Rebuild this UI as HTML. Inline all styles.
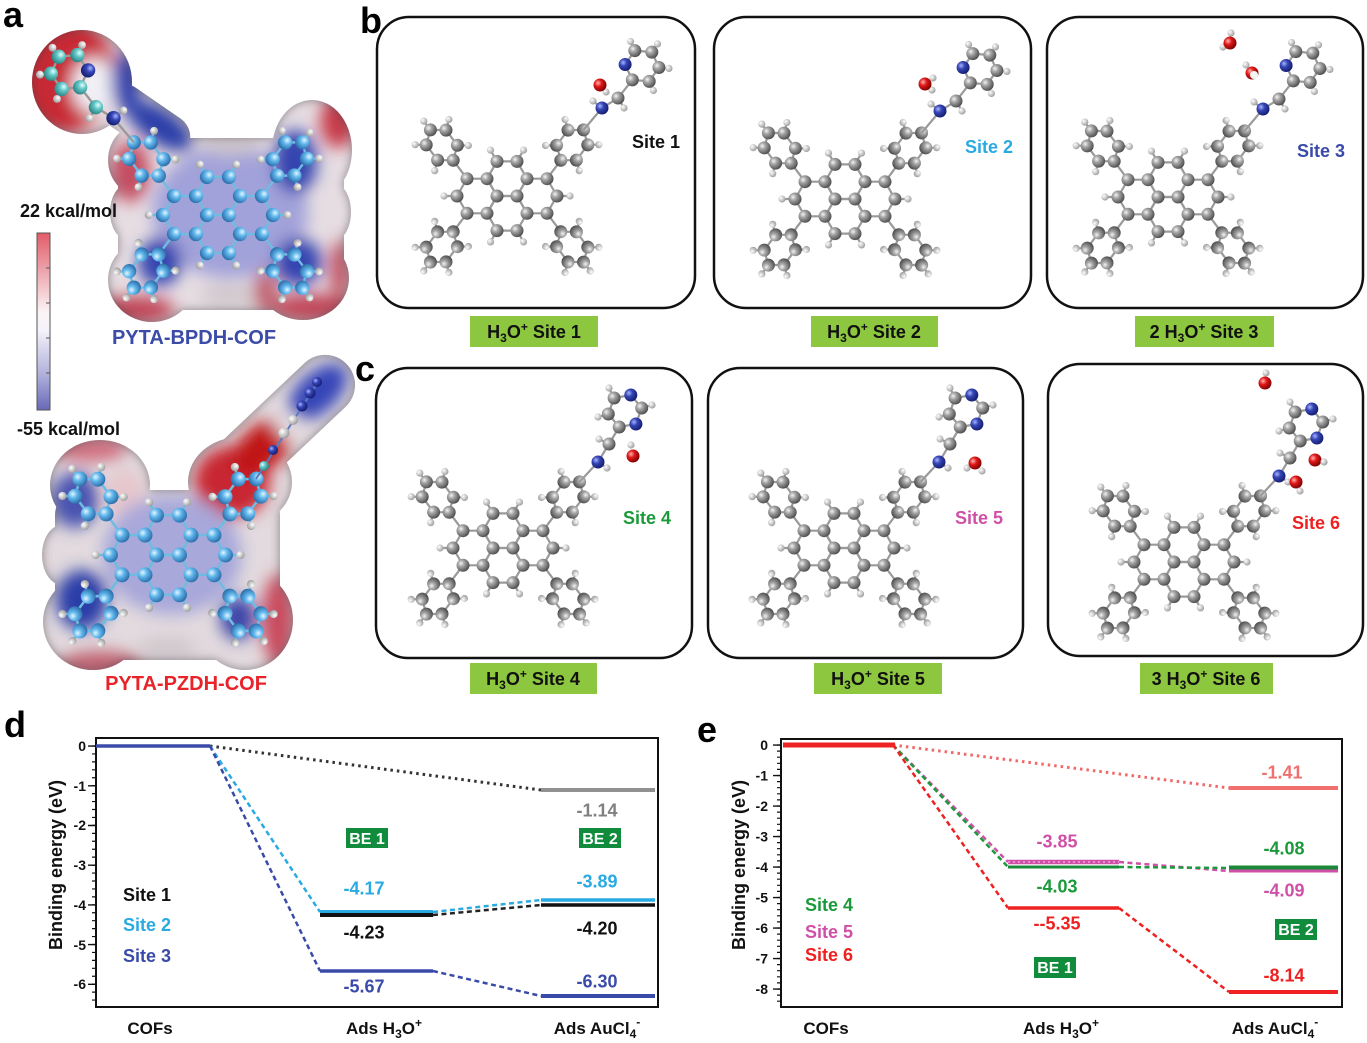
<!DOCTYPE html>
<html>
<head>
<meta charset="utf-8">
<style>
html,body{margin:0;padding:0;background:#fff;}
svg{display:block;}
text{font-family:"Liberation Sans",Arial,sans-serif;font-weight:bold;}
</style>
</head>
<body>
<svg width="1367" height="1043" viewBox="0 0 1367 1043" xmlns="http://www.w3.org/2000/svg">
<defs>
  <radialGradient id="gC" cx="0.35" cy="0.35" r="0.7">
    <stop offset="0" stop-color="#f4f4f4"/><stop offset="0.35" stop-color="#a6a6a6"/><stop offset="1" stop-color="#4a4a4a"/>
  </radialGradient>
  <radialGradient id="gH" cx="0.35" cy="0.35" r="0.7">
    <stop offset="0" stop-color="#ffffff"/><stop offset="1" stop-color="#9a9a9a"/>
  </radialGradient>
  <radialGradient id="gN" cx="0.35" cy="0.35" r="0.7">
    <stop offset="0" stop-color="#a8b4ff"/><stop offset="0.4" stop-color="#3444b4"/><stop offset="1" stop-color="#141c6c"/>
  </radialGradient>
  <radialGradient id="gO" cx="0.35" cy="0.35" r="0.7">
    <stop offset="0" stop-color="#ffb4b4"/><stop offset="0.4" stop-color="#e01818"/><stop offset="1" stop-color="#7a0000"/>
  </radialGradient>
  <radialGradient id="gA" cx="0.35" cy="0.35" r="0.7">
    <stop offset="0" stop-color="#e4f6ff"/><stop offset="0.4" stop-color="#62b8ec"/><stop offset="1" stop-color="#2a6aa8"/>
  </radialGradient>
  <radialGradient id="gT" cx="0.35" cy="0.35" r="0.7">
    <stop offset="0" stop-color="#e4ffff"/><stop offset="0.4" stop-color="#62c8c6"/><stop offset="1" stop-color="#2a8080"/>
  </radialGradient>
  <linearGradient id="cb" x1="0" y1="0" x2="0" y2="1">
    <stop offset="0" stop-color="#e25c68"/><stop offset="0.2" stop-color="#eca0a8"/><stop offset="0.45" stop-color="#fbf4f6"/>
    <stop offset="0.55" stop-color="#f4f2fa"/><stop offset="0.8" stop-color="#b0b0dc"/><stop offset="1" stop-color="#6868b8"/>
  </linearGradient>
  <filter id="bl" x="-50%" y="-50%" width="200%" height="200%"><feGaussianBlur stdDeviation="8"/></filter>
  <filter id="inner" x="-10%" y="-10%" width="120%" height="120%">
    <feGaussianBlur in="SourceAlpha" stdDeviation="5" result="b"/>
    <feComposite in="SourceAlpha" in2="b" operator="out" result="edge"/>
    <feFlood flood-color="#3c3840"/>
    <feComposite in2="edge" operator="in"/>
  </filter>

  <!-- pyrene core -->
  <g id="pyrB" fill="none" stroke="currentColor" stroke-width="2.2">
    <polygon points="-20,-17.3 -10,-34.6 10,-34.6 20,-17.3 10,0 -10,0"/>
    <polygon points="-20,17.3 -10,34.6 10,34.6 20,17.3 10,0 -10,0"/>
    <polygon points="-50,0 -40,-17.3 -20,-17.3 -10,0 -20,17.3 -40,17.3"/>
    <polygon points="50,0 40,-17.3 20,-17.3 10,0 20,17.3 40,17.3"/>
    <path d="M-50,0L-63,0M50,0L63,0M-10,-34.6L-16.5,-45.9M10,-34.6L16.5,-45.9M-10,34.6L-16.5,45.9M10,34.6L16.5,45.9"/>
  </g>
  <g id="pyrA">
    <circle cx="-10" cy="0" r="6.5"/><circle cx="10" cy="0" r="6.5"/>
    <circle cx="-20" cy="-17.3" r="6.5"/><circle cx="20" cy="-17.3" r="6.5"/>
    <circle cx="-20" cy="17.3" r="6.5"/><circle cx="20" cy="17.3" r="6.5"/>
    <circle cx="-10" cy="-34.6" r="6.5"/><circle cx="10" cy="-34.6" r="6.5"/>
    <circle cx="-10" cy="34.6" r="6.5"/><circle cx="10" cy="34.6" r="6.5"/>
    <circle cx="-40" cy="-17.3" r="6.5"/><circle cx="40" cy="-17.3" r="6.5"/>
    <circle cx="-40" cy="17.3" r="6.5"/><circle cx="40" cy="17.3" r="6.5"/>
    <circle cx="-50" cy="0" r="6.5"/><circle cx="50" cy="0" r="6.5"/>
  </g>
  <g id="pyrH">
    <circle cx="-63" cy="0" r="3.6"/><circle cx="63" cy="0" r="3.6"/>
    <circle cx="-16.5" cy="-45.9" r="3.6"/><circle cx="16.5" cy="-45.9" r="3.6"/>
    <circle cx="-16.5" cy="45.9" r="3.6"/><circle cx="16.5" cy="45.9" r="3.6"/>
  </g>
  <!-- phenyl arm (upper-left) -->
  <g id="armB" fill="none" stroke="currentColor" stroke-width="2.2">
    <polygon points="-53.8,-35.7 -69.4,-35.9 -80.8,-51.1 -76.6,-66.1 -61,-65.9 -49.6,-50.7"/>
    <line x1="-40" y1="-17.3" x2="-53.8" y2="-35.7"/>
    <path d="M-69.4,-35.9L-72.3,-25.3M-80.8,-51.1L-91.8,-51.3M-61,-65.9L-58.1,-76.5M-49.6,-50.7L-38.6,-50.5"/>
  </g>
  <path id="paraB" d="M-76.6,-66.1L-83.2,-74.9"/>
  <g id="armA">
    <circle cx="-53.8" cy="-35.7" r="6.5"/><circle cx="-69.4" cy="-35.9" r="6.5"/><circle cx="-80.8" cy="-51.1" r="6.5"/>
    <circle cx="-76.6" cy="-66.1" r="6.5"/><circle cx="-61" cy="-65.9" r="6.5"/><circle cx="-49.6" cy="-50.7" r="6.5"/>
  </g>
  <g id="armH">
    <circle cx="-72.3" cy="-25.3" r="3.6"/><circle cx="-91.8" cy="-51.3" r="3.6"/>
    <circle cx="-58.1" cy="-76.5" r="3.6"/><circle cx="-38.6" cy="-50.5" r="3.6"/>
  </g>
  <circle id="paraH" cx="-83.2" cy="-74.9" r="3.6"/>

  <g id="molB">
    <use href="#pyrB"/>
    <use href="#armB"/><use href="#armB" transform="scale(-1,1)"/><use href="#armB" transform="scale(1,-1)"/><use href="#armB" transform="scale(-1,-1)"/>
    <g fill="none" stroke="currentColor" stroke-width="2.2">
      <use href="#paraB"/><use href="#paraB" transform="scale(1,-1)"/><use href="#paraB" transform="scale(-1,-1)"/>
    </g>
  </g>
  <g id="molH">
    <use href="#pyrH"/>
    <use href="#armH"/><use href="#armH" transform="scale(-1,1)"/><use href="#armH" transform="scale(1,-1)"/><use href="#armH" transform="scale(-1,-1)"/>
    <use href="#paraH"/><use href="#paraH" transform="scale(1,-1)"/><use href="#paraH" transform="scale(-1,-1)"/>
  </g>
  <g id="molC">
    <use href="#pyrA"/>
    <use href="#armA"/><use href="#armA" transform="scale(-1,1)"/><use href="#armA" transform="scale(1,-1)"/><use href="#armA" transform="scale(-1,-1)"/>
  </g>

  <!-- pyridine tail -->
  <g id="tailP">
    <g fill="none" stroke="#9a9a9a" stroke-width="2.2">
      <polyline points="76.6,-66.1 95,-88 111,-98 125.3,-116.1"/>
      <polygon points="125.3,-116.1 118.1,-131.5 127.8,-145.4 144.8,-143.9 151.9,-128.5 142.2,-114.6"/>
      <path d="M127.8,-145.4L123.6,-154.5M144.8,-143.9L150.5,-152.1M151.9,-128.5L161.9,-127.6M142.2,-114.6L146.4,-105.5M111,-98L117,-88M95,-88L86,-95"/>
    </g>
    <g fill="url(#gH)">
      <circle cx="123.6" cy="-154.5" r="3.6"/><circle cx="150.5" cy="-152.1" r="3.6"/><circle cx="161.9" cy="-127.6" r="3.6"/>
      <circle cx="146.4" cy="-105.5" r="3.6"/><circle cx="117" cy="-88" r="3.6"/><circle cx="86" cy="-95" r="3.6"/>
    </g>
    <g>
      <circle cx="111" cy="-98" r="6.5"/><circle cx="125.3" cy="-116.1" r="6.5"/><circle cx="127.8" cy="-145.4" r="6.5"/>
      <circle cx="144.8" cy="-143.9" r="6.5"/><circle cx="151.9" cy="-128.5" r="6.5"/><circle cx="142.2" cy="-114.6" r="6.5"/>
    </g>
    <g fill="url(#gN)"><circle cx="95" cy="-88" r="6.5"/><circle cx="118.1" cy="-131.5" r="6.5"/></g>
  </g>
  <!-- pyrazine tail -->
  <g id="tailZ">
    <g fill="none" stroke="#9a9a9a" stroke-width="2.2">
      <polyline points="76.6,-66.1 95,-86 106,-104 116.2,-121"/>
      <polygon points="116.2,-121 105.3,-134 111.1,-150 127.8,-153 138.7,-140 132.9,-124"/>
      <path d="M105.3,-134L95,-131M111.1,-150L106,-160M138.7,-140L149,-143M106,-104L96,-109M95,-86L104,-80"/>
    </g>
    <g fill="url(#gH)">
      <circle cx="95" cy="-131" r="3.6"/><circle cx="106" cy="-160" r="3.6"/><circle cx="149" cy="-143" r="3.6"/>
      <circle cx="96" cy="-109" r="3.6"/><circle cx="104" cy="-80" r="3.6"/>
    </g>
    <g fill="url(#gC)">
      <circle cx="106" cy="-104" r="6.5"/><circle cx="116.2" cy="-121" r="6.5"/><circle cx="105.3" cy="-134" r="6.5"/>
      <circle cx="111.1" cy="-150" r="6.5"/><circle cx="138.7" cy="-140" r="6.5"/>
    </g>
    <g fill="url(#gN)"><circle cx="95" cy="-86" r="6.5"/><circle cx="127.8" cy="-153" r="6.5"/><circle cx="132.9" cy="-124" r="6.5"/></g>
  </g>

  <clipPath id="cA1">
    <rect x="118" y="138" width="226" height="172" rx="25"/>
    <ellipse cx="150" cy="160" rx="42" ry="40"/>
    <ellipse cx="312" cy="150" rx="40" ry="50"/>
    <ellipse cx="152" cy="280" rx="44" ry="42"/>
    <ellipse cx="303" cy="278" rx="46" ry="42"/>
    <ellipse cx="128" cy="212" rx="18" ry="28"/>
    <ellipse cx="335" cy="212" rx="16" ry="28"/>
    <rect x="95" y="99" width="100" height="46" rx="23" transform="rotate(34.5 145 122)"/>
    <ellipse cx="82" cy="82" rx="50" ry="52"/>
  </clipPath>
  <clipPath id="cA2">
    <rect x="55" y="490" width="225" height="170" rx="25"/>
    <ellipse cx="100" cy="485" rx="50" ry="45"/>
    <ellipse cx="240" cy="482" rx="52" ry="45"/>
    <ellipse cx="93" cy="622" rx="50" ry="48"/>
    <ellipse cx="245" cy="620" rx="48" ry="50"/>
    <ellipse cx="62" cy="555" rx="20" ry="30"/>
    <ellipse cx="255" cy="555" rx="14" ry="30"/>
    <rect x="188" y="397.5" width="184" height="60" rx="30" transform="rotate(-43.4 280 427.5)"/>
  </clipPath>
</defs>

<!-- ===== Panel a ===== -->
<text x="3" y="27" font-size="36">a</text>

<g clip-path="url(#cA1)">
  <rect x="0" y="0" width="360" height="340" fill="#e6dde2"/>
  <g filter="url(#bl)">
    <ellipse cx="64" cy="75" rx="52" ry="58" fill="#c82a34"/>
    <ellipse cx="94" cy="86" rx="22" ry="28" fill="#f2f0f6"/>
    <ellipse cx="126" cy="82" rx="15" ry="30" fill="#3444b0"/>
    <ellipse cx="160" cy="126" rx="38" ry="17" transform="rotate(34 160 126)" fill="#2c3ca8"/>
    <ellipse cx="130" cy="172" rx="20" ry="30" fill="#c44e62"/>
    <ellipse cx="230" cy="212" rx="78" ry="66" fill="#a2a2da"/>
    <ellipse cx="230" cy="145" rx="30" ry="10" fill="#cfc6ca"/>
    <ellipse cx="230" cy="295" rx="30" ry="10" fill="#cfc6ca"/>
    <ellipse cx="295" cy="162" rx="22" ry="32" fill="#3444b0"/>
    <ellipse cx="338" cy="122" rx="18" ry="26" fill="#c83a4a"/>
    <ellipse cx="160" cy="262" rx="22" ry="24" fill="#3444b0"/>
    <ellipse cx="135" cy="310" rx="40" ry="14" fill="#bf4456"/>
    <ellipse cx="298" cy="262" rx="24" ry="24" fill="#3444b0"/>
    <ellipse cx="312" cy="308" rx="42" ry="14" fill="#bf4456"/>
    <ellipse cx="266" cy="292" rx="12" ry="22" fill="#c06070"/>
    <ellipse cx="340" cy="270" rx="10" ry="30" fill="#c0505e"/>
  </g>
</g>
<g filter="url(#inner)" opacity="0.55" fill="#000">
  <rect x="118" y="138" width="226" height="172" rx="25"/>
  <ellipse cx="150" cy="160" rx="42" ry="40"/>
  <ellipse cx="312" cy="150" rx="40" ry="50"/>
  <ellipse cx="152" cy="280" rx="44" ry="42"/>
  <ellipse cx="303" cy="278" rx="46" ry="42"/>
  <ellipse cx="128" cy="212" rx="18" ry="28"/>
  <ellipse cx="335" cy="212" rx="16" ry="28"/>
  <rect x="95" y="99" width="100" height="46" rx="23" transform="rotate(34.5 145 122)"/>
  <ellipse cx="82" cy="82" rx="50" ry="52"/>
</g>
<g transform="translate(218,215) scale(-1.1,1.1)">
  <use href="#molB" color="#70bce0"/>
  <use href="#molH" fill="url(#gH)"/>
  <use href="#molC" fill="url(#gA)"/>
  <use href="#tailP" fill="url(#gT)"/>
</g>
<text x="194" y="344" font-size="20" fill="#3b4ca8" text-anchor="middle">PYTA-BPDH-COF</text>

<text x="20" y="217" font-size="18" fill="#111">22 kcal/mol</text>
<rect x="37" y="233" width="13" height="177" fill="url(#cb)" stroke="#555" stroke-width="1"/>
<path d="M46,268H50M46,303H50M46,338H50M46,373H50" stroke="#555" stroke-width="1"/>
<text x="17" y="435" font-size="18" fill="#111">-55 kcal/mol</text>

<g clip-path="url(#cA2)">
  <rect x="0" y="340" width="370" height="350" fill="#e2dade"/>
  <g filter="url(#bl)">
    <ellipse cx="90" cy="448" rx="38" ry="14" fill="#d07080"/>
    <ellipse cx="75" cy="500" rx="24" ry="28" fill="#4a52b0"/>
    <ellipse cx="125" cy="495" rx="20" ry="26" fill="#e6c6cc"/>
    <ellipse cx="232" cy="482" rx="38" ry="36" fill="#c82830"/>
    <ellipse cx="262" cy="448" rx="34" ry="22" transform="rotate(-43 262 448)" fill="#c01818"/>
    <ellipse cx="318" cy="392" rx="36" ry="20" transform="rotate(-43 318 392)" fill="#3444b8"/>
    <ellipse cx="288" cy="425" rx="12" ry="12" fill="#e8e2e6"/>
    <ellipse cx="172" cy="555" rx="70" ry="60" fill="#a8a8da"/>
    <ellipse cx="82" cy="600" rx="26" ry="30" fill="#2c3ca8"/>
    <ellipse cx="100" cy="665" rx="42" ry="14" fill="#c06070"/>
    <ellipse cx="238" cy="618" rx="18" ry="22" fill="#3c44a8"/>
    <ellipse cx="278" cy="620" rx="16" ry="46" fill="#c84a5c"/>
    <ellipse cx="168" cy="648" rx="30" ry="10" fill="#cfc6ca"/>
  </g>
</g>
<g filter="url(#inner)" opacity="0.55" fill="#000">
  <rect x="55" y="490" width="225" height="170" rx="25"/>
  <ellipse cx="100" cy="485" rx="50" ry="45"/>
  <ellipse cx="240" cy="482" rx="52" ry="45"/>
  <ellipse cx="93" cy="622" rx="50" ry="48"/>
  <ellipse cx="245" cy="620" rx="48" ry="50"/>
  <ellipse cx="62" cy="555" rx="20" ry="30"/>
  <ellipse cx="255" cy="555" rx="14" ry="30"/>
  <rect x="188" y="397.5" width="184" height="60" rx="30" transform="rotate(-43.4 280 427.5)"/>
</g>
<g transform="translate(168,555) scale(1.15)">
  <use href="#molB" color="#70bce0"/>
  <use href="#molH" fill="url(#gH)"/>
  <use href="#molC" fill="url(#gA)"/>
</g>
<g>
  <line x1="256" y1="479" x2="318" y2="382" stroke="#5a7ac0" stroke-width="2"/>
  <circle cx="264" cy="466" r="5" fill="url(#gT)"/>
  <circle cx="273" cy="450" r="5" fill="url(#gN)"/>
  <circle cx="284" cy="433" r="5.5" fill="url(#gH)"/>
  <circle cx="293" cy="420" r="5" fill="url(#gH)"/>
  <circle cx="302" cy="406" r="5.5" fill="url(#gN)"/>
  <circle cx="310" cy="393" r="5.5" fill="url(#gN)"/>
  <circle cx="317" cy="382" r="5" fill="url(#gN)"/>
</g>
<text x="186" y="690" font-size="20" fill="#e8232a" text-anchor="middle">PYTA-PZDH-COF</text>

<!-- ===== Panel b ===== -->
<text x="360" y="33" font-size="36">b</text>
<g fill="none" stroke="#111" stroke-width="2.5">
  <rect x="377" y="17" width="318" height="291" rx="32"/>
  <rect x="714" y="17" width="317" height="291" rx="32"/>
  <rect x="1047" y="17" width="316" height="291" rx="32"/>
</g>

<g transform="translate(507,196)">
  <use href="#molB" color="#9a9a9a"/><use href="#molH" fill="url(#gH)"/><use href="#molC" fill="url(#gC)"/>
  <use href="#tailP" fill="url(#gC)"/>
  <circle cx="99" cy="-104" r="3.6" fill="url(#gH)"/>
  <circle cx="93" cy="-111" r="6.5" fill="url(#gO)"/>
</g>
<text x="632" y="148" font-size="18" fill="#111">Site 1</text>

<g transform="translate(845,199)">
  <use href="#molB" color="#9a9a9a"/><use href="#molH" fill="url(#gH)"/><use href="#molC" fill="url(#gC)"/>
  <use href="#tailP" fill="url(#gC)"/>
  <circle cx="87" cy="-109" r="3.6" fill="url(#gH)"/>
  <circle cx="80" cy="-115" r="6.5" fill="url(#gO)"/>
  <circle cx="88" cy="-121" r="3.6" fill="url(#gH)"/>
</g>
<text x="965" y="153" font-size="18" fill="#29aae1">Site 2</text>

<g transform="translate(1168,197)">
  <use href="#molB" color="#9a9a9a"/><use href="#molH" fill="url(#gH)"/><use href="#molC" fill="url(#gC)"/>
  <use href="#tailP" fill="url(#gC)"/>
  <circle cx="55" cy="-150" r="3.6" fill="url(#gH)"/>
  <circle cx="62" cy="-154" r="6.5" fill="url(#gO)"/>
  <circle cx="63" cy="-164" r="3.6" fill="url(#gH)"/>
  <circle cx="78" cy="-132" r="3.6" fill="url(#gH)"/>
  <circle cx="84" cy="-124" r="6.5" fill="url(#gO)"/>
  <circle cx="86" cy="-122" r="4" fill="#f4f4f4"/>
</g>
<text x="1297" y="157" font-size="18" fill="#3a4aa8">Site 3</text>

<g font-size="18" fill="#111" text-anchor="middle">
  <rect x="470" y="316" width="128" height="31" fill="#8dc63f"/>
  <text x="534" y="338">H<tspan font-size="12" dy="4">3</tspan><tspan dy="-4">O</tspan><tspan font-size="12" dy="-7">+</tspan><tspan dy="7"> Site 1</tspan></text>
  <rect x="811" y="316" width="127" height="31" fill="#8dc63f"/>
  <text x="874" y="338">H<tspan font-size="12" dy="4">3</tspan><tspan dy="-4">O</tspan><tspan font-size="12" dy="-7">+</tspan><tspan dy="7"> Site 2</tspan></text>
  <rect x="1135" y="316" width="139" height="31" fill="#8dc63f"/>
  <text x="1204" y="338">2 H<tspan font-size="12" dy="4">3</tspan><tspan dy="-4">O</tspan><tspan font-size="12" dy="-7">+</tspan><tspan dy="7"> Site 3</tspan></text>
</g>

<!-- ===== Panel c ===== -->
<text x="355" y="381" font-size="36">c</text>
<g fill="none" stroke="#111" stroke-width="2.5">
  <rect x="376" y="368" width="316" height="290" rx="32"/>
  <rect x="708" y="368" width="315" height="290" rx="32"/>
  <rect x="1048" y="364" width="315" height="292" rx="32"/>
</g>

<g transform="translate(503,548)">
  <use href="#molB" color="#9a9a9a"/><use href="#molH" fill="url(#gH)"/><use href="#molC" fill="url(#gC)"/>
  <use href="#tailZ"/>
  <circle cx="128" cy="-103" r="3.6" fill="url(#gH)"/>
  <circle cx="130" cy="-92" r="6.5" fill="url(#gO)"/>
</g>
<text x="623" y="524" font-size="18" fill="#1a9a3a">Site 4</text>

<g transform="translate(844,548)">
  <use href="#molB" color="#9a9a9a"/><use href="#molH" fill="url(#gH)"/><use href="#molC" fill="url(#gC)"/>
  <use href="#tailZ"/>
  <circle cx="123" cy="-80" r="3.6" fill="url(#gH)"/>
  <circle cx="131" cy="-85" r="6.5" fill="url(#gO)"/>
  <circle cx="138" cy="-77" r="3.6" fill="url(#gH)"/>
</g>
<text x="955" y="524" font-size="18" fill="#d050a8">Site 5</text>

<g transform="translate(1184,562)">
  <use href="#molB" color="#9a9a9a"/><use href="#molH" fill="url(#gH)"/><use href="#molC" fill="url(#gC)"/>
  <use href="#tailZ"/>
  <circle cx="82" cy="-189" r="3.6" fill="url(#gH)"/>
  <circle cx="81" cy="-179" r="6.5" fill="url(#gO)"/>
  <circle cx="131" cy="-102" r="6.5" fill="url(#gO)"/>
  <circle cx="140" cy="-100" r="3.6" fill="url(#gH)"/>
  <circle cx="112" cy="-80" r="6.5" fill="url(#gO)"/>
  <circle cx="116" cy="-71" r="3.6" fill="url(#gH)"/>
</g>
<text x="1292" y="529" font-size="18" fill="#ee2020">Site 6</text>

<g font-size="18" fill="#111" text-anchor="middle">
  <rect x="470" y="663" width="127" height="31" fill="#8dc63f"/>
  <text x="533" y="685">H<tspan font-size="12" dy="4">3</tspan><tspan dy="-4">O</tspan><tspan font-size="12" dy="-7">+</tspan><tspan dy="7"> Site 4</tspan></text>
  <rect x="814" y="663" width="128" height="31" fill="#8dc63f"/>
  <text x="878" y="685">H<tspan font-size="12" dy="4">3</tspan><tspan dy="-4">O</tspan><tspan font-size="12" dy="-7">+</tspan><tspan dy="7"> Site 5</tspan></text>
  <rect x="1140" y="663" width="133" height="31" fill="#8dc63f"/>
  <text x="1206" y="685">3 H<tspan font-size="12" dy="4">3</tspan><tspan dy="-4">O</tspan><tspan font-size="12" dy="-7">+</tspan><tspan dy="7"> Site 6</tspan></text>
</g>

<!-- ===== Panel d ===== -->
<text x="4" y="737" font-size="36">d</text>
<rect x="96" y="738" width="562" height="269" fill="none" stroke="#111" stroke-width="2"/>
<line x1="92" y1="745.4" x2="92" y2="1004" stroke="#111" stroke-width="8" stroke-dasharray="1.4 38.3"/>
<line x1="94" y1="745.4" x2="94" y2="1004" stroke="#111" stroke-width="4" stroke-dasharray="1.2 6.74"/>
<g font-size="14" text-anchor="end" fill="#111">
  <text x="86" y="751">0</text><text x="86" y="791">-1</text><text x="86" y="830">-2</text><text x="86" y="870">-3</text>
  <text x="86" y="910">-4</text><text x="86" y="950">-5</text><text x="86" y="989">-6</text>
</g>
<text transform="translate(62,865) rotate(-90)" font-size="18" text-anchor="middle" fill="#111">Binding energy (eV)</text>

<g fill="none">
  <line x1="210" y1="746" x2="541" y2="790" stroke="#333" stroke-width="3" stroke-dasharray="2.5 4"/>
  <line x1="210" y1="746" x2="320" y2="912" stroke="#29aae1" stroke-width="2.5" stroke-dasharray="5 3.5"/>
  <line x1="210" y1="746" x2="320" y2="971" stroke="#3a4aa8" stroke-width="2.5" stroke-dasharray="5 3.5"/>
  <line x1="433" y1="912" x2="541" y2="900" stroke="#29aae1" stroke-width="2.5" stroke-dasharray="5 3.5"/>
  <line x1="433" y1="915" x2="541" y2="905" stroke="#222" stroke-width="2.5" stroke-dasharray="5 3.5"/>
  <line x1="433" y1="971" x2="541" y2="996" stroke="#3a4aa8" stroke-width="2.5" stroke-dasharray="5 3.5"/>
</g>
<g fill="none">
  <line x1="96" y1="746" x2="210" y2="746" stroke="#3a4aa8" stroke-width="3.5"/>
  <line x1="320" y1="915" x2="433" y2="915" stroke="#111" stroke-width="4"/>
  <line x1="320" y1="911.5" x2="433" y2="911.5" stroke="#29aae1" stroke-width="3"/>
  <line x1="320" y1="971" x2="433" y2="971" stroke="#3a4aa8" stroke-width="3.5"/>
  <line x1="541" y1="790" x2="655" y2="790" stroke="#909090" stroke-width="4"/>
  <line x1="541" y1="900" x2="655" y2="900" stroke="#29aae1" stroke-width="3.5"/>
  <line x1="541" y1="905" x2="655" y2="905" stroke="#111" stroke-width="3.5"/>
  <line x1="541" y1="996" x2="655" y2="996" stroke="#3a4aa8" stroke-width="4"/>
</g>
<g font-size="18" text-anchor="middle">
  <text x="364" y="894.5" fill="#29aae1">-4.17</text>
  <text x="364" y="938.5" fill="#111">-4.23</text>
  <text x="364" y="992.5" fill="#3a4aa8">-5.67</text>
  <text x="597" y="816.5" fill="#808080">-1.14</text>
  <text x="597" y="887.5" fill="#29aae1">-3.89</text>
  <text x="597" y="934.5" fill="#111">-4.20</text>
  <text x="597" y="987.5" fill="#3a4aa8">-6.30</text>
</g>
<rect x="346" y="828" width="42" height="20" fill="#108c3c"/>
<rect x="579" y="828" width="42" height="20" fill="#108c3c"/>
<g font-size="16" fill="#fff" text-anchor="middle">
  <text x="367" y="844">BE 1</text>
  <text x="600" y="844">BE 2</text>
</g>
<g font-size="18">
  <text x="123" y="901" fill="#111">Site 1</text>
  <text x="123" y="931" fill="#29aae1">Site 2</text>
  <text x="123" y="962" fill="#3a4aa8">Site 3</text>
</g>
<g font-size="17" text-anchor="middle" fill="#111">
  <text x="150" y="1034">COFs</text>
  <text x="384" y="1034">Ads H<tspan font-size="12" dy="4">3</tspan><tspan dy="-4">O</tspan><tspan font-size="12" dy="-7">+</tspan></text>
  <text x="597" y="1034">Ads AuCl<tspan font-size="12" dy="4">4</tspan><tspan font-size="12" dy="-12">-</tspan></text>
</g>

<!-- ===== Panel e ===== -->
<text x="697" y="742" font-size="36">e</text>
<rect x="781" y="739" width="561" height="268" fill="none" stroke="#111" stroke-width="2"/>
<line x1="777" y1="744.4" x2="777" y2="1005" stroke="#111" stroke-width="8" stroke-dasharray="1.4 29.1"/>
<line x1="779" y1="744.4" x2="779" y2="1005" stroke="#111" stroke-width="4" stroke-dasharray="1.2 4.9"/>
<g font-size="14" text-anchor="end" fill="#111">
  <text x="768" y="750">0</text><text x="768" y="780.5">-1</text><text x="768" y="811">-2</text><text x="768" y="841.5">-3</text>
  <text x="768" y="872">-4</text><text x="768" y="902.5">-5</text><text x="768" y="933">-6</text><text x="768" y="963.5">-7</text><text x="768" y="994">-8</text>
</g>
<text transform="translate(745,865) rotate(-90)" font-size="18" text-anchor="middle" fill="#111">Binding energy (eV)</text>

<g fill="none">
  <line x1="893" y1="745" x2="1229" y2="788" stroke="#f06868" stroke-width="3" stroke-dasharray="2.5 4"/>
  <line x1="893" y1="745" x2="1008" y2="862" stroke="#d050a8" stroke-width="2.5" stroke-dasharray="5 3.5"/>
  <line x1="893" y1="745" x2="1008" y2="867" stroke="#1a9a3a" stroke-width="2.5" stroke-dasharray="5 3.5"/>
  <line x1="893" y1="745" x2="1008" y2="908" stroke="#ee2020" stroke-width="2.5" stroke-dasharray="5 3.5"/>
  <line x1="1119" y1="862" x2="1229" y2="871" stroke="#d050a8" stroke-width="2.5" stroke-dasharray="5 3.5"/>
  <line x1="1119" y1="867" x2="1229" y2="868" stroke="#1a9a3a" stroke-width="2.5" stroke-dasharray="5 3.5"/>
  <line x1="1119" y1="908" x2="1229" y2="992" stroke="#ee2020" stroke-width="2.5" stroke-dasharray="5 3.5"/>
</g>
<g fill="none">
  <line x1="783" y1="745" x2="895" y2="745" stroke="#ee2222" stroke-width="5"/>
  <line x1="1008" y1="867" x2="1119" y2="867" stroke="#1a8a3a" stroke-width="3"/>
  <line x1="1008" y1="862" x2="1119" y2="862" stroke="#d050a8" stroke-width="4.5"/>
  <line x1="1008" y1="862" x2="1119" y2="862" stroke="#f4a0dc" stroke-width="1.5" stroke-dasharray="2 3"/>
  <line x1="1008" y1="908" x2="1119" y2="908" stroke="#ee2222" stroke-width="3.5"/>
  <line x1="1229" y1="788" x2="1338" y2="788" stroke="#f07070" stroke-width="4"/>
  <line x1="1229" y1="871" x2="1338" y2="871" stroke="#d050a8" stroke-width="3"/>
  <line x1="1229" y1="867.5" x2="1338" y2="867.5" stroke="#1a8a3a" stroke-width="4"/>
  <line x1="1229" y1="992" x2="1338" y2="992" stroke="#ee2222" stroke-width="4"/>
</g>
<g font-size="18" text-anchor="middle">
  <text x="1057" y="847.5" fill="#d050a8">-3.85</text>
  <text x="1057" y="892.5" fill="#1a9a3a">-4.03</text>
  <text x="1057" y="929.5" fill="#ee2020">--5.35</text>
  <text x="1282" y="778.5" fill="#f07070">-1.41</text>
  <text x="1284" y="854.5" fill="#1a9a3a">-4.08</text>
  <text x="1284" y="896.5" fill="#d050a8">-4.09</text>
  <text x="1284" y="981.5" fill="#ee2020">-8.14</text>
</g>
<rect x="1034" y="957" width="42" height="21" fill="#108c3c"/>
<rect x="1275" y="919" width="42" height="21" fill="#108c3c"/>
<g font-size="16" fill="#fff" text-anchor="middle">
  <text x="1055" y="973">BE 1</text>
  <text x="1296" y="935">BE 2</text>
</g>
<g font-size="18">
  <text x="805" y="911" fill="#1a9a3a">Site 4</text>
  <text x="805" y="938" fill="#d050a8">Site 5</text>
  <text x="805" y="961" fill="#ee2020">Site 6</text>
</g>
<g font-size="17" text-anchor="middle" fill="#111">
  <text x="826" y="1034">COFs</text>
  <text x="1061" y="1034">Ads H<tspan font-size="12" dy="4">3</tspan><tspan dy="-4">O</tspan><tspan font-size="12" dy="-7">+</tspan></text>
  <text x="1275" y="1034">Ads AuCl<tspan font-size="12" dy="4">4</tspan><tspan font-size="12" dy="-12">-</tspan></text>
</g>
</svg>
</body>
</html>
